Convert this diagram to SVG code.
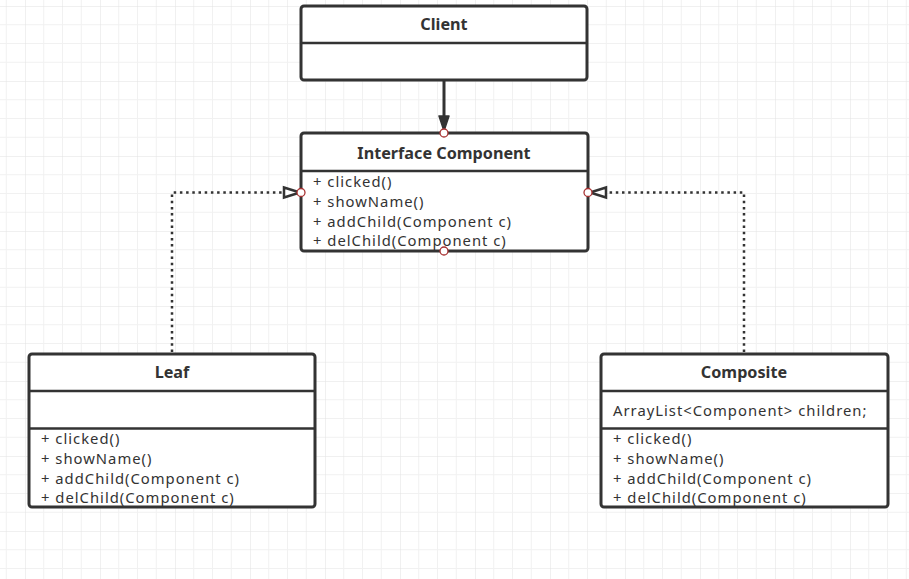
<svg xmlns="http://www.w3.org/2000/svg" width="909" height="579" viewBox="0 0 909 579">
<style>
.box{fill:#ffffff;stroke:#333333;stroke-width:3}
.div{stroke:#333333;stroke-width:2.5;fill:none}
.title{font-family:"Noto Sans","Open Sans",sans-serif;font-size:16.2px;font-weight:bold;fill:#333333;text-anchor:middle}
.mem{font-family:"Noto Sans","Open Sans",sans-serif;font-size:14.8px;letter-spacing:1px;fill:#333333}
.dot{fill:none;stroke:#333333;stroke-width:2.5;stroke-dasharray:2.5 3.7}
.pt{fill:#ffffff;stroke:#a83232;stroke-width:1.3}
</style>
<defs>
<pattern id="grid" patternUnits="userSpaceOnUse" x="25" y="6" width="75" height="75">
<path d="M18.75 0V75M37.5 0V75M56.25 0V75M0 18.75H75M0 37.5H75M0 56.25H75" stroke="#f1f1f1" stroke-width="1" fill="none"/>
<path d="M0 0V75M0 0H75" stroke="#e2e2e2" stroke-width="1" fill="none"/>
</pattern>
</defs>
<rect x="0" y="0" width="909" height="579" fill="#ffffff"/>
<rect x="0" y="0" width="909" height="579" fill="url(#grid)"/>

<g id="connectors">
<line x1="444" y1="81" x2="444" y2="118" stroke="#333333" stroke-width="3"/>
<path d="M439 116L449 116L444 131Z" fill="#333333" stroke="#333333" stroke-width="1.5" stroke-linejoin="round"/>
<path class="dot" d="M172 352V192.5H284"/>
<path d="M284 187.5L300 192.5L284 197.5Z" fill="#ffffff" stroke="#333333" stroke-width="2.5" stroke-linejoin="miter"/>
<path class="dot" d="M744 352V192.5H606"/>
<path d="M606 187.5L590 192.5L606 197.5Z" fill="#ffffff" stroke="#333333" stroke-width="2.5" stroke-linejoin="miter"/>
</g>

<g id="client">
<rect class="box" x="301" y="6" width="286" height="74" rx="3"/>
<line class="div" x1="301" y1="43" x2="587" y2="43"/>
<text class="title" x="444" y="30">Client</text>
</g>

<g id="component">
<rect class="box" x="301" y="133" width="287" height="118" rx="3"/>
<line class="div" x1="301" y1="171" x2="588" y2="171"/>
<text class="title" x="444" y="159">Interface Component</text>
<text class="mem" x="313" y="187">+ clicked()</text>
<text class="mem" x="313" y="207">+ showName()</text>
<text class="mem" x="313" y="227">+ addChild(Component c)</text>
<text class="mem" x="313" y="246">+ delChild(Component c)</text>
</g>

<g id="leaf">
<rect class="box" x="29" y="354" width="286" height="153" rx="3"/>
<line class="div" x1="29" y1="391" x2="315" y2="391"/>
<line class="div" x1="29" y1="428.5" x2="315" y2="428.5"/>
<text class="title" x="172" y="378">Leaf</text>
<text class="mem" x="41" y="444">+ clicked()</text>
<text class="mem" x="41" y="464">+ showName()</text>
<text class="mem" x="41" y="484">+ addChild(Component c)</text>
<text class="mem" x="41" y="503">+ delChild(Component c)</text>
</g>

<g id="composite">
<rect class="box" x="601" y="354" width="287" height="153" rx="3"/>
<line class="div" x1="601" y1="391" x2="888" y2="391"/>
<line class="div" x1="601" y1="428.5" x2="888" y2="428.5"/>
<text class="title" x="744" y="378">Composite</text>
<text class="mem" x="613" y="416">ArrayList&lt;Component&gt; children;</text>
<text class="mem" x="613" y="444">+ clicked()</text>
<text class="mem" x="613" y="464">+ showName()</text>
<text class="mem" x="613" y="484">+ addChild(Component c)</text>
<text class="mem" x="613" y="503">+ delChild(Component c)</text>
</g>

<g id="points">
<circle class="pt" cx="444" cy="133" r="4"/>
<circle class="pt" cx="444" cy="251" r="4"/>
<circle class="pt" cx="301" cy="192.5" r="4"/>
<circle class="pt" cx="588" cy="192.5" r="4"/>
</g>
</svg>
